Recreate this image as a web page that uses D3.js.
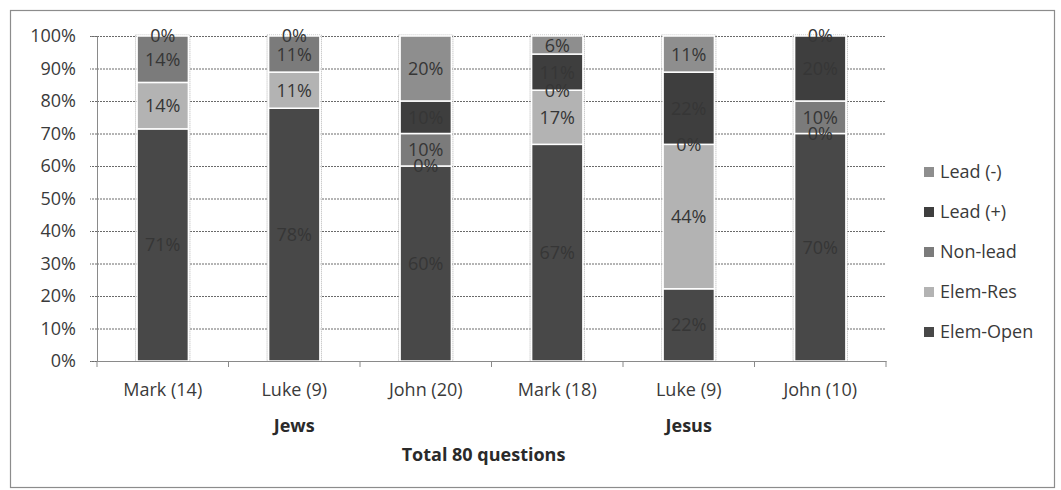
<!DOCTYPE html>
<html>
<head>
<meta charset="utf-8">
<script src="https://cdn.jsdelivr.net/npm/d3@7"></script>
<style>
  html, body { margin: 0; padding: 0; background: #fff; }
  svg { display: block; font-family: "Open Sans", "DejaVu Sans", sans-serif; }
</style>
</head>
<body>
<svg id="chart" width="1061" height="490"></svg>
<script>
// Question counts per gospel and speaker group (bottom-to-top stacking order)
const categories = ["Mark (14)", "Luke (9)", "John (20)", "Mark (18)", "Luke (9)", "John (10)"];
const groups = ["Jews", "Jews", "Jews", "Jesus", "Jesus", "Jesus"];
const seriesNames = ["Elem-Open", "Elem-Res", "Non-lead", "Lead (+)", "Lead (-)"];
const elemOpen  = [10, 7, 12, 12, 2, 7];
const elemRes   = [2, 1, 0, 3, 4, 0];
const nonLead   = [2, 1, 2, 0, 0, 1];
const leadPlus  = [0, 0, 2, 2, 2, 2];
const leadMinus = [0, 0, 4, 1, 1, 0];
const yTicks = [0, 0.1, 0.2, 0.3, 0.4, 0.5, 0.6, 0.7, 0.8, 0.9, 1.0];
const axisTitle = "Total 80 questions";

const seriesValues = [elemOpen, elemRes, nonLead, leadPlus, leadMinus];
const colors = ["#484848", "#b3b3b3", "#7b7b7b", "#3e3e3e", "#8e8e8e"];
const FS = 18;

// Build rows of shares (each bar sums to 100%)
const rows = categories.map((c, i) => {
  const total = d3.sum(seriesValues, s => s[i]);
  const row = { idx: i };
  seriesNames.forEach((n, k) => { row[n] = seriesValues[k][i] / total; });
  return row;
});
const stacked = d3.stack().keys(seriesNames)(rows);

const svg = d3.select("#chart");
const plot = { left: 97, right: 886, top: 36, bottom: 361 };

const x = d3.scaleBand().domain(d3.range(categories.length)).range([plot.left, plot.right]);
const y = d3.scaleLinear().domain([0, 1]).range([plot.bottom, plot.top]);
const color = d3.scaleOrdinal().domain(seriesNames).range(colors);
const barW = x.bandwidth() * 0.39;

// Outer frame
svg.append("rect")
  .attr("x", 10.5).attr("y", 10.5).attr("width", 1044).attr("height", 477)
  .attr("fill", "none").attr("stroke", "#8c8c8c").attr("stroke-width", 1.2);

// Dotted gridlines
svg.append("g").selectAll("line")
  .data(yTicks.filter(t => t > 0))
  .join("line")
  .attr("x1", plot.left).attr("x2", plot.right)
  .attr("y1", d => y(d) + 0.5).attr("y2", d => y(d) + 0.5)
  .attr("stroke", "#6a6a6a").attr("stroke-width", 1)
  .attr("stroke-dasharray", "2,1");

// Y axis
const yAxis = svg.append("g")
  .attr("transform", `translate(${plot.left},0)`)
  .call(d3.axisLeft(y).tickValues(yTicks).tickFormat(d3.format(".0%")).tickSize(7).tickPadding(14));
yAxis.select(".domain").attr("stroke", "#8a8a8a");
yAxis.selectAll(".tick line").attr("stroke", "#6a6a6a").attr("stroke-dasharray", "2,1");
yAxis.selectAll("text").attr("font-size", FS).attr("fill", "#3a3a3a")
  .attr("font-family", "'Open Sans', sans-serif");

// Faint dotted outline around each whole bar
svg.append("g").selectAll("rect")
  .data(rows)
  .join("rect")
  .attr("x", d => x(d.idx) + (x.bandwidth() - barW) / 2 - 1.5)
  .attr("y", y(1) - 1)
  .attr("width", barW + 3)
  .attr("height", y(0) - y(1) + 1)
  .attr("fill", "none")
  .attr("stroke", "#b0b0b0")
  .attr("stroke-dasharray", "1,1");

// Stacked bars
const layer = svg.append("g").selectAll("g")
  .data(stacked)
  .join("g")
  .attr("fill", d => color(d.key));

layer.selectAll("rect")
  .data(d => d)
  .join("rect")
  .attr("x", d => x(d.data.idx) + (x.bandwidth() - barW) / 2)
  .attr("y", d => y(d[1]))
  .attr("width", barW)
  .attr("height", d => y(d[0]) - y(d[1]))
  .attr("stroke", "#ffffff")
  .attr("stroke-width", 1.5);

// Value labels (percent of each bar); identical labels at one spot are drawn once
const labels = svg.append("g");
const placed = new Set();
stacked.forEach(s => {
  s.forEach(d => {
    const lx = x(d.data.idx) + x.bandwidth() / 2;
    const ly = (y(d[0]) + y(d[1])) / 2;
    const txt = Math.round((d[1] - d[0]) * 100) + "%";
    const key = `${lx.toFixed(1)}|${ly.toFixed(1)}|${txt}`;
    if (placed.has(key)) return;
    placed.add(key);
    labels.append("text")
      .attr("x", lx)
      .attr("y", ly)
      .attr("dy", "0.36em")
      .attr("text-anchor", "middle")
      .attr("font-size", FS)
      .attr("fill", "#363636")
      .text(txt);
  });
});

// X axis baseline and category separators
const xAxis = svg.append("g")
  .attr("transform", `translate(0,${plot.bottom})`)
  .call(d3.axisBottom(x).tickFormat(i => categories[i]).tickSize(0).tickPadding(22));
xAxis.select(".domain").attr("stroke", "#8a8a8a").attr("stroke-width", 1.2);
xAxis.selectAll("text").attr("font-size", FS).attr("fill", "#3a3a3a")
  .attr("font-family", "'Open Sans', sans-serif");

const bounds = d3.range(categories.length).map(i => x(i)).concat([plot.right]);
svg.append("g").selectAll("line")
  .data(bounds)
  .join("line")
  .attr("x1", d => d).attr("x2", d => d)
  .attr("y1", plot.bottom).attr("y2", plot.bottom + 6)
  .attr("stroke", "#8a8a8a");

// Group labels
const groupNames = Array.from(new Set(groups));
svg.append("g").selectAll("text")
  .data(groupNames)
  .join("text")
  .attr("x", g => {
    const idx = d3.range(groups.length).filter(i => groups[i] === g);
    return (x(idx[0]) + x(idx[idx.length - 1]) + x.bandwidth()) / 2;
  })
  .attr("y", 432)
  .attr("text-anchor", "middle")
  .attr("font-size", FS)
  .attr("font-weight", "bold")
  .attr("fill", "#2a2a2a")
  .text(g => g);

svg.append("text")
  .attr("x", (plot.left + plot.right) / 2 - 8)
  .attr("y", 461)
  .attr("text-anchor", "middle")
  .attr("font-size", FS)
  .attr("font-weight", "bold")
  .attr("fill", "#2a2a2a")
  .text(axisTitle);

// Legend (top entry is the last stacked series)
const legendItems = seriesNames.slice().reverse();
const legend = svg.append("g").selectAll("g")
  .data(legendItems)
  .join("g")
  .attr("transform", (d, i) => `translate(924,${172 + i * 40})`);
legend.append("rect")
  .attr("x", 0).attr("y", -5).attr("width", 10).attr("height", 10)
  .attr("fill", d => color(d));
legend.append("text")
  .attr("x", 16).attr("dy", "0.36em")
  .attr("font-size", FS).attr("fill", "#3a3a3a")
  .text(d => d);
</script>
</body>
</html>
